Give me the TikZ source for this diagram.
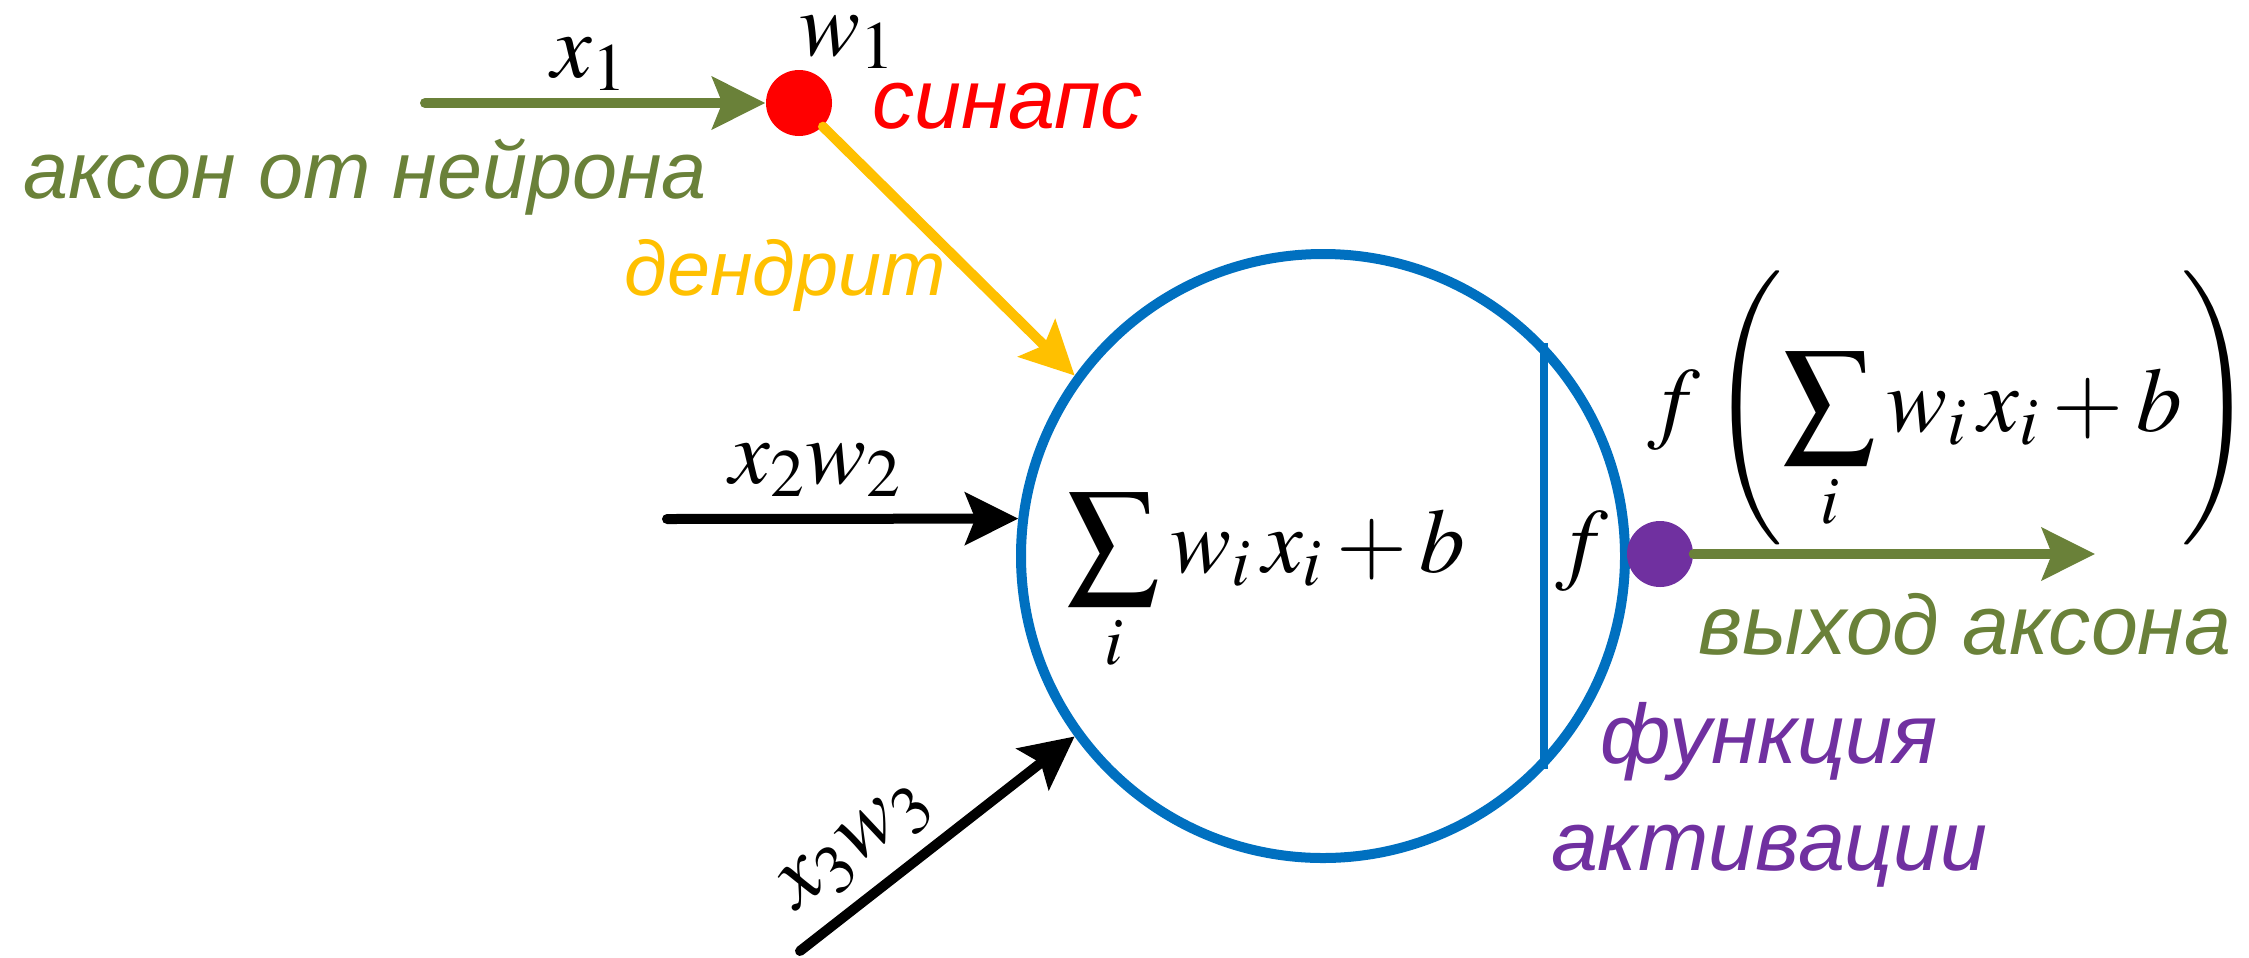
\documentclass[tikz,border=0pt]{standalone}
\usepackage{mathptmx}
\usepackage[no-math]{fontspec}
\newfontfamily\podpis{Liberation Sans}
\usepackage{xcolor}
\usetikzlibrary{arrows.meta}
\definecolor{akson}{RGB}{106,129,57}
\definecolor{sinaps}{RGB}{255,0,0}
\definecolor{dendrit}{RGB}{255,192,0}
\definecolor{telo}{RGB}{0,112,192}
\definecolor{aktiv}{RGB}{112,48,160}

\begin{document}
\begin{tikzpicture}[
    font=\fontsize{26}{31}\selectfont,
    tekst/.style={font=\podpis\itshape\fontsize{24}{30.4}\selectfont, inner sep=0,
                  anchor=base west},
    formula/.style={inner sep=0, anchor=base},
    tochka/.style={circle, minimum size=0.66cm, inner sep=0},
    strelka/.style={line width=0.1cm, line cap=round,
                    -{Stealth[length=5.3mm, width=5.2mm, inset=1mm]}}
  ]
    \useasboundingbox (0,0) rectangle (22.49,9.57);
    \node[draw=telo, line width=0.1cm, circle, minimum size=6.04cm, inner sep=0]
      (neuron) at (13.23,4.01) {};
    \draw[telo, line width=0.085cm] (neuron.44.6) -- (neuron.-44.6);
    \node[tochka, fill=sinaps] (sinaps) at (7.99,8.54) {};
    \node[tochka, fill=aktiv] (vyhod) at (16.60,4.03) {};
    \coordinate (vhod1) at (4.25,8.54);
    \coordinate (vhod2) at (6.67,4.38);
    \coordinate (vhod3) at (8.00,0.06);
    \coordinate (konec) at (20.95,4.03);
    \draw[strelka, akson] (vhod1) -- (sinaps);
    \draw[strelka, dendrit] (sinaps) -- (neuron.144);
    \draw[strelka] (vhod2) -- (neuron.173);
    \draw[strelka] (vhod3) -- (neuron.216)
      node[sloped, above, pos=0.31, inner sep=4pt] (x3w3) {$x_3w_3$};
    \draw[strelka, akson] (vyhod) -- (konec);
    \node[formula] (x1) at (5.90,8.80) {$x_1$};
    \node[formula] (w1) at (8.48,9.02) {$w_1$};
    \node[formula] (x2w2) at (8.16,4.74) {$x_2w_2$};
    \node[formula] (summa) at (12.66,3.85)
      {$\displaystyle\sum_i w_i\,x_i + b$};
    \node[formula] (f) at (15.82,3.85) {$f$};
    \node[formula] (itog) at (19.51,5.26)
      {$f\left(\displaystyle\sum_i w_i\,x_i + b\right)$};
    \node[tekst, akson, font=\podpis\itshape\fontsize{23}{28}\selectfont]
      (aksonOt) at (0.23,7.59) {аксон от нейрона};
    \node[tekst, sinaps] (sinapsTxt) at (8.72,8.29) {синапс};
    \node[tekst, dendrit, font=\podpis\itshape\fontsize{22}{27}\selectfont]
      (dendritTxt) at (6.24,6.62) {дендрит};
    \node[tekst, akson] (vyhodTxt) at (16.98,3.03) {выход аксона};
    \node[tekst, aktiv, align=center, anchor=base] (funkTxt) at (17.69,0.87)
      {функция\\активации};
  \end{tikzpicture}
\end{document}
